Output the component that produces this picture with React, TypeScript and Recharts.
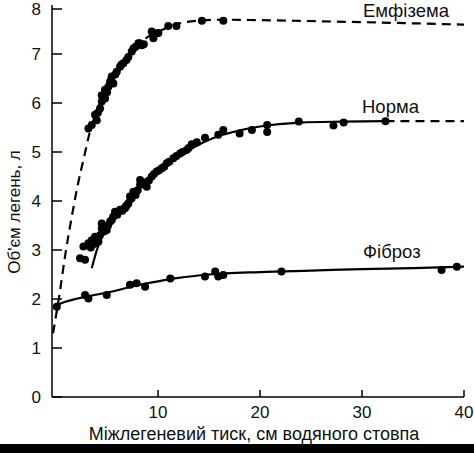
import React from 'react';
import { ComposedChart, Line, Scatter, XAxis, YAxis } from 'recharts';

// ---- data (x = intrapleural pressure, cm H2O; y = lung volume, l) ----
const xTicks = [10, 20, 30, 40];
const yTicks = [0, 1, 2, 3, 4, 5, 6, 7, 8];

const emphysemaCurveX = [-0.3, 0.3, 0.9, 1.6, 2.1, 2.8, 3.3, 4, 5, 6, 7, 8, 9, 10, 11, 12, 14, 16.4, 20, 30, 40];
const emphysemaCurveY = [1.3, 2.05, 2.9, 3.75, 4.3, 4.95, 5.4, 5.85, 6.3, 6.65, 6.93, 7.17, 7.35, 7.45, 7.55, 7.62, 7.68, 7.7, 7.69, 7.65, 7.6];

const emphysemaPtsX = [3.17, 3.5, 3.82, 3.99, 4.1, 4.31, 4.48, 4.6, 4.8, 4.48, 4.8, 5.0, 5.13, 5.29, 5.4, 5.46, 5.62, 5.8, 5.95, 6.27, 6.4, 6.6, 6.9, 7.09, 7.42, 7.58, 7.8, 8.07, 8.2, 8.4, 8.6, 9.38, 9.54, 9.8, 10.03, 11.0, 11.8, 14.3, 16.4];
const emphysemaPtsY = [5.48, 5.55, 5.76, 5.65, 5.8, 5.89, 6.03, 6.1, 6.09, 6.16, 6.27, 6.22, 6.33, 6.43, 6.48, 6.54, 6.4, 6.58, 6.64, 6.74, 6.78, 6.81, 6.88, 6.94, 7.05, 7.11, 7.15, 7.22, 7.22, 7.18, 7.2, 7.46, 7.32, 7.42, 7.43, 7.57, 7.57, 7.68, 7.68];

const normCurveX = [3.5, 4, 5, 6, 7, 8, 9, 10, 12, 14, 16, 18, 20, 24, 28, 32.3];
const normCurveY = [2.63, 3.0, 3.47, 3.78, 4.02, 4.25, 4.45, 4.62, 4.92, 5.15, 5.33, 5.44, 5.52, 5.6, 5.62, 5.63];
const normTailX = [32.3, 40];
const normTailY = [5.63, 5.63];

const normPtsX = [2.35, 2.84, 2.68, 3.17, 3.4, 3.5, 3.7, 3.82, 4.0, 4.15, 4.3, 4.48, 4.48, 4.7, 4.97, 5.1, 5.3, 5.46, 5.6, 5.78, 6.0, 6.27, 6.5, 6.76, 6.9, 7.09, 7.25, 7.4, 7.58, 7.8, 8.0, 8.24, 8.24, 8.5, 8.7, 8.89, 9.1, 9.38, 9.6, 9.87, 10.1, 10.36, 10.6, 10.85, 11.1, 11.5, 11.8, 12.16, 12.4, 12.8, 13.0, 13.3, 13.8, 14.6, 15.9, 16.4, 18.0, 19.2, 20.7, 20.7, 23.8, 27.2, 28.2, 32.3];
const normPtsY = [2.83, 2.8, 3.07, 3.14, 3.05, 3.2, 3.12, 3.27, 3.22, 3.17, 3.3, 3.44, 3.54, 3.38, 3.41, 3.5, 3.58, 3.61, 3.68, 3.78, 3.72, 3.82, 3.8, 3.85, 3.9, 3.95, 4.09, 4.05, 4.19, 4.12, 4.22, 4.33, 4.43, 4.35, 4.38, 4.29, 4.42, 4.5, 4.55, 4.6, 4.63, 4.67, 4.7, 4.77, 4.8, 4.87, 4.92, 4.97, 5.0, 5.04, 5.08, 5.16, 5.2, 5.29, 5.35, 5.45, 5.38, 5.45, 5.55, 5.41, 5.62, 5.54, 5.6, 5.63];

const fibrosisCurveX = [-0.3, 1, 3, 5, 8, 10, 12, 15, 20, 25, 30, 35, 40];
const fibrosisCurveY = [1.85, 1.95, 2.05, 2.13, 2.28, 2.36, 2.43, 2.5, 2.55, 2.58, 2.61, 2.63, 2.66];

const fibrosisPtsX = [0.07, 2.84, 3.17, 4.97, 7.25, 7.9, 8.73, 11.2, 14.6, 15.6, 15.9, 16.4, 22.1, 37.8, 39.3];
const fibrosisPtsY = [1.84, 2.08, 2.01, 2.08, 2.29, 2.32, 2.25, 2.42, 2.46, 2.56, 2.46, 2.49, 2.56, 2.59, 2.66];

const seriesLabels = ['Емфізема', 'Норма', 'Фіброз'];
const xTitle = 'Міжлегеневий тиск, см водяного стовпа';
const yTitle = "Об'єм легень, л";

const zip = (xs: number[], ys: number[]) => xs.map((x, i) => ({ x, y: ys[i] }));

const FONT = '"Liberation Sans", Arial, sans-serif';

const YTick = (props: any) => {
  const { x, y, payload } = props;
  return (
    <g>
      <line x1={x} y1={y} x2={x + 10} y2={y} stroke="#000" strokeWidth={1.5} />
      <text x={x - 11} y={y} textAnchor="end" dominantBaseline="central" fontSize={17} fontFamily={FONT} fill="#111">
        {payload.value}
      </text>
    </g>
  );
};

const XTick = (props: any) => {
  const { x, y, payload } = props;
  return (
    <g>
      <line x1={x} y1={y} x2={x} y2={y - 7} stroke="#000" strokeWidth={1.5} />
      <text x={x} y={y + 21} textAnchor="middle" fontSize={17} fontFamily={FONT} fill="#111">
        {payload.value}
      </text>
    </g>
  );
};

const Dot = (props: any) => {
  const { cx, cy } = props;
  return <circle cx={cx} cy={cy} r={4} fill="#000" />;
};

export default function App() {
  return (
    <div style={{ position: 'absolute', left: 0, top: 0, width: 474, height: 453, background: '#fff', overflow: 'hidden' }}>
      <ComposedChart width={474} height={453} margin={{ top: 5, right: 10, bottom: 0, left: 12 }}>
        <XAxis
          type="number"
          dataKey="x"
          domain={[-0.4, 40]}
          ticks={xTicks}
          allowDataOverflow
          height={56}
          tickSize={0}
          tickMargin={0}
          tickLine={false}
          axisLine={{ stroke: '#000', strokeWidth: 1.5 }}
          tick={<XTick />}
        />
        <YAxis
          type="number"
          dataKey="y"
          domain={[0, 8]}
          ticks={yTicks}
          allowDataOverflow
          width={40}
          tickSize={0}
          tickMargin={0}
          tickLine={false}
          axisLine={{ stroke: '#000', strokeWidth: 1.5 }}
          tick={<YTick />}
        />
        <Line data={zip(emphysemaCurveX, emphysemaCurveY)} dataKey="y" type="monotone" stroke="#000" strokeWidth={2.2} strokeDasharray="9 6" dot={false} isAnimationActive={false} />
        <Line data={zip(normCurveX, normCurveY)} dataKey="y" type="monotone" stroke="#000" strokeWidth={2.2} dot={false} isAnimationActive={false} />
        <Line data={zip(normTailX, normTailY)} dataKey="y" type="linear" stroke="#000" strokeWidth={2.2} strokeDasharray="9 6" dot={false} isAnimationActive={false} />
        <Line data={zip(fibrosisCurveX, fibrosisCurveY)} dataKey="y" type="monotone" stroke="#000" strokeWidth={2.2} dot={false} isAnimationActive={false} />
        <Scatter data={zip(emphysemaPtsX, emphysemaPtsY)} dataKey="y" shape={<Dot />} isAnimationActive={false} />
        <Scatter data={zip(normPtsX, normPtsY)} dataKey="y" shape={<Dot />} isAnimationActive={false} />
        <Scatter data={zip(fibrosisPtsX, fibrosisPtsY)} dataKey="y" shape={<Dot />} isAnimationActive={false} />
      </ComposedChart>
      <svg width={474} height={453} style={{ position: 'absolute', left: 0, top: 0, pointerEvents: 'none' }}>
        <text x={363} y={17} fontSize={18.5} fontFamily={FONT} fill="#111">{seriesLabels[0]}</text>
        <text x={362} y={113} fontSize={18.5} fontFamily={FONT} fill="#111">{seriesLabels[1]}</text>
        <text x={363} y={258} fontSize={18.5} fontFamily={FONT} fill="#111">{seriesLabels[2]}</text>
        <text x={254} y={440} textAnchor="middle" fontSize={18} fontFamily={FONT} fill="#111">{xTitle}</text>
        <text transform="translate(20,212) rotate(-90)" textAnchor="middle" fontSize={17} fontFamily={FONT} fill="#111">{yTitle}</text>
        <rect x={0} y={444} width={474} height={9} fill="#000" />
      </svg>
    </div>
  );
}
